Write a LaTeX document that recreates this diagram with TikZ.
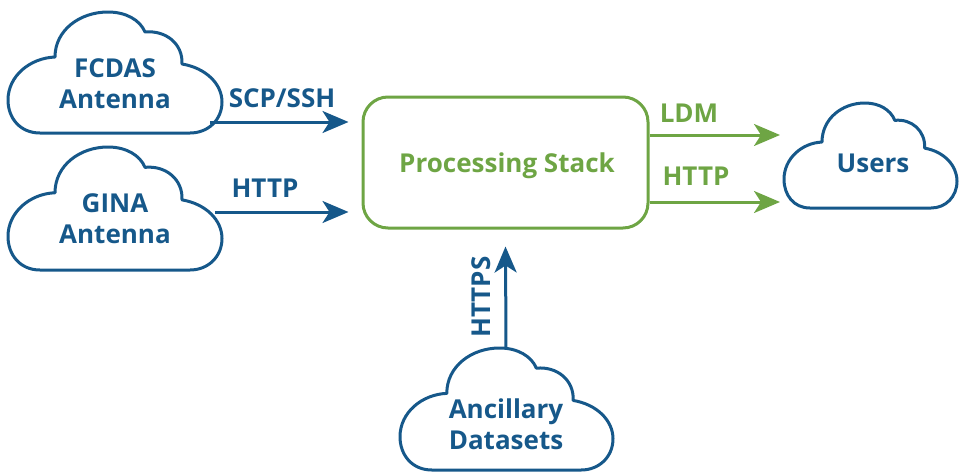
\documentclass[tikz,border=0pt]{standalone}
\usepackage{fontspec}
\setmainfont{Open Sans}
\usetikzlibrary{arrows.meta}
\definecolor{cblue}{RGB}{22,88,138}
\definecolor{cgreen}{RGB}{110,165,68}
\tikzset{
  cloudline/.style={draw=cblue, line width=3pt, line join=round},
  lbl/.style={font=\fontsize{26}{31}\selectfont\bfseries, inner sep=0pt},
  blbl/.style={lbl, text=cblue},
  glbl/.style={lbl, text=cgreen},
  barrow/.style={draw=cblue, line width=3pt, -{Stealth[length=26pt,width=22pt,inset=7pt]}},
  garrow/.style={draw=cgreen, line width=3pt, -{Stealth[length=26pt,width=22pt,inset=7pt]}},
  procbox/.style={draw=cgreen, line width=3pt, rounded corners=25pt, minimum width=285pt, minimum height=131pt, inner sep=0pt},
}
\newcommand\drawcloud[4]{%
  \begin{scope}[shift={(#1,#2)}, xscale=#3/214, yscale=#4/121]
    \draw[cloudline] (32,121) .. controls (12,121) and (0,106) .. (0,88)
      .. controls (0,64) and (22,46) .. (47,45)
      .. controls (47,18) and (72,0) .. (100,0)
      .. controls (118,0) and (132,8) .. (137,20)
      .. controls (158,18) and (175,32) .. (174,52)
      .. controls (198,56) and (214,72) .. (214,90)
      .. controls (214,108) and (200,121) .. (182,121)
      -- cycle;
  \end{scope}}
\begin{document}
\begin{tikzpicture}[x=1pt,y=-1pt]
  \useasboundingbox (0,0) rectangle (961,474);
  % clouds
  \drawcloud{8}{12}{214}{121}
  \drawcloud{8}{147}{214}{123}
  \drawcloud{784}{103}{173}{105}
  \drawcloud{400}{348}{213}{122}
  % cloud texts
  \node[blbl, align=center] (fcdas) at (115,84) {FCDAS\\Antenna};
  \node[blbl, align=center] (gina) at (115,219) {GINA\\Antenna};
  \node[blbl, anchor=base] (users) at (873,172) {Users};
  \node[blbl, align=center] (anc) at (506,424) {Ancillary\\Datasets};
  % processing stack
  \node[procbox] (proc) at (505.5,162.5) {};
  \node[glbl, anchor=base] (proctext) at (507,172) {Processing Stack};
  % connector end points
  \coordinate (fcdasout) at (210,122);
  \coordinate (ginaout) at (215,212);
  \coordinate (ancout) at (506,349);
  \coordinate (usersin1) at (780,135);
  \coordinate (usersin2) at (780,202);
  % connectors
  \draw[barrow] (fcdasout) -- ([xshift=-13pt]proc.west |- fcdasout);
  \draw[barrow] (ginaout) -- ([xshift=-13pt]proc.west |- ginaout);
  \draw[barrow] (ancout) -- ([yshift=-17pt]proc.south);
  \draw[garrow] (proc.east |- usersin1) -- (usersin1);
  \draw[garrow] (proc.east |- usersin2) -- (usersin2);
  % connector labels
  \node[blbl, anchor=base] (l1) at (282,107) {SCP/SSH};
  \node[blbl, anchor=base] (l2) at (265,197) {HTTP};
  \node[blbl, anchor=base, rotate=90] (l3) at (490,297) {HTTPS};
  \node[glbl, anchor=base] (l4) at (689,122) {LDM};
  \node[glbl, anchor=base] (l5) at (696,185) {HTTP};
\end{tikzpicture}
\end{document}
